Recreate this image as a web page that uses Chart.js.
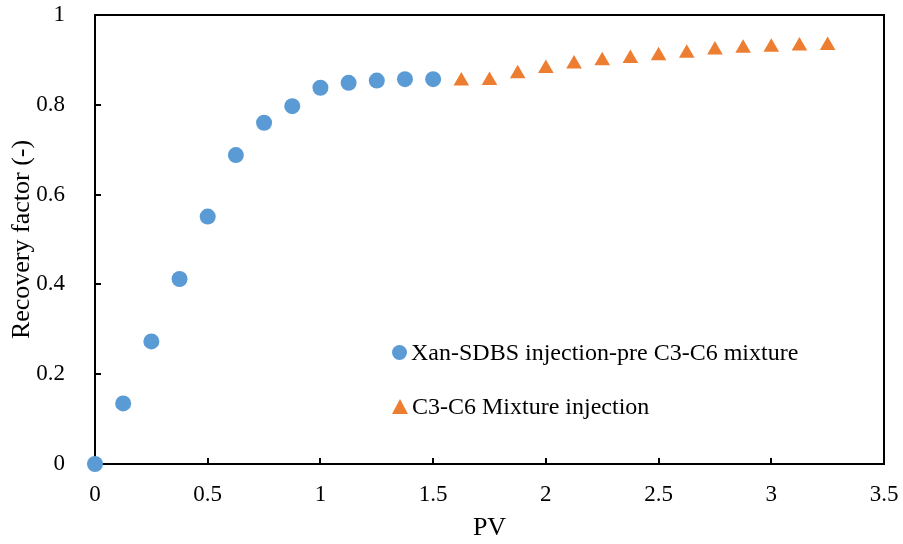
<!DOCTYPE html>
<html>
<head>
<meta charset="utf-8">
<script src="https://cdn.jsdelivr.net/npm/chart.js@4/dist/chart.umd.min.js"></script>
<style>
  html, body { margin: 0; padding: 0; background: #fff; }
  #wrap { position: relative; width: 903px; height: 544px; }
  .legend { position: absolute; left: 392px; font-family: "Liberation Serif", "Times New Roman", serif; font-size: 24px; color: #000; white-space: nowrap; line-height: 24px; display: flex; align-items: center; }
  .legend .mk { display: inline-block; margin-right: 4px; }
  .dot { width: 15px; height: 15px; border-radius: 50%; background: #5B9BD5; }
  .tri { width: 0; height: 0; border-left: 8px solid transparent; border-right: 8px solid transparent; border-bottom: 15px solid #ED7D31; }
</style>
</head>
<body>
<div id="wrap">
  <canvas id="c" width="903" height="544"></canvas>
  <div class="legend" style="top:340px"><span class="mk dot"></span>Xan-SDBS injection-pre C3-C6 mixture</div>
  <div class="legend" style="top:394px"><span class="mk tri"></span>C3-C6 Mixture injection</div>
</div>
<script>
// PV values and recovery factors
const pvPre = [0, 0.125, 0.25, 0.375, 0.5, 0.625, 0.75, 0.875, 1.0, 1.125, 1.25, 1.375, 1.5];
const rfPre = [0, 0.135, 0.273, 0.412, 0.551, 0.688, 0.760, 0.797, 0.838, 0.849, 0.854, 0.857, 0.857];

const pvMix = [1.625, 1.75, 1.875, 2.0, 2.125, 2.25, 2.375, 2.5, 2.625, 2.75, 2.875, 3.0, 3.125, 3.25];
const rfMix = [0.853, 0.854, 0.869, 0.881, 0.891, 0.898, 0.903, 0.909, 0.915, 0.922, 0.926, 0.928, 0.931, 0.932];

const FONT = '"Liberation Serif", "Times New Roman", serif';

const toXY = (xs, ys) => xs.map((x, i) => ({ x: x, y: ys[i] }));
const fmt = v => String(parseFloat(Number(v).toFixed(2)));

// frame and inward tick marks, Excel style (drawn under the markers)
const framePlugin = {
  id: 'frame',
  beforeDatasetsDraw(chart) {
    const { ctx, chartArea: a, scales } = chart;
    ctx.save();
    ctx.strokeStyle = '#000';
    ctx.lineWidth = 2;
    ctx.strokeRect(a.left, a.top, a.right - a.left, a.bottom - a.top);
    ctx.beginPath();
    scales.x.ticks.forEach(t => {
      const px = Math.round(scales.x.getPixelForValue(t.value));
      ctx.moveTo(px, a.bottom);
      ctx.lineTo(px, a.bottom - 6);
    });
    scales.y.ticks.forEach(t => {
      const py = Math.round(scales.y.getPixelForValue(t.value));
      ctx.moveTo(a.left, py);
      ctx.lineTo(a.left + 6, py);
    });
    ctx.stroke();
    ctx.restore();
  }
};

new Chart(document.getElementById('c'), {
  type: 'scatter',
  data: {
    datasets: [
      {
        label: 'Xan-SDBS injection-pre C3-C6 mixture',
        data: toXY(pvPre, rfPre),
        pointStyle: 'circle',
        pointRadius: 8,
        backgroundColor: '#5B9BD5',
        borderColor: '#5B9BD5',
        borderWidth: 0,
        clip: false
      },
      {
        label: 'C3-C6 Mixture injection',
        data: toXY(pvMix, rfMix),
        pointStyle: 'triangle',
        pointRadius: 9,
        backgroundColor: '#ED7D31',
        borderColor: '#ED7D31',
        borderWidth: 0,
        clip: false
      }
    ]
  },
  options: {
    responsive: false,
    animation: false,
    layout: { padding: { top: 15, right: 19, left: 0, bottom: 0 } },
    plugins: {
      legend: { display: false },
      tooltip: { enabled: false }
    },
    scales: {
      x: {
        type: 'linear',
        min: 0,
        max: 3.5,
        ticks: { stepSize: 0.5, color: '#000', font: { family: FONT, size: 23 }, padding: 9, callback: fmt },
        grid: { display: false },
        border: { display: false },
        title: { display: true, text: 'PV', color: '#000', font: { family: FONT, size: 26 }, padding: { top: 8, bottom: 0 } },
        afterFit(s) { s.height = 80; s.paddingLeft = 0; s.paddingRight = 0; }
      },
      y: {
        min: 0,
        max: 1,
        ticks: { stepSize: 0.2, color: '#000', font: { family: FONT, size: 23 }, padding: 22, callback: fmt },
        grid: { display: false },
        border: { display: false },
        title: { display: true, text: 'Recovery factor (-)', color: '#000', font: { family: FONT, size: 26 }, padding: { top: 7, bottom: 0 } },
        afterFit(s) { s.width = 95; s.paddingTop = 0; s.paddingBottom = 0; }
      }
    }
  },
  plugins: [framePlugin]
});
</script>
</body>
</html>
